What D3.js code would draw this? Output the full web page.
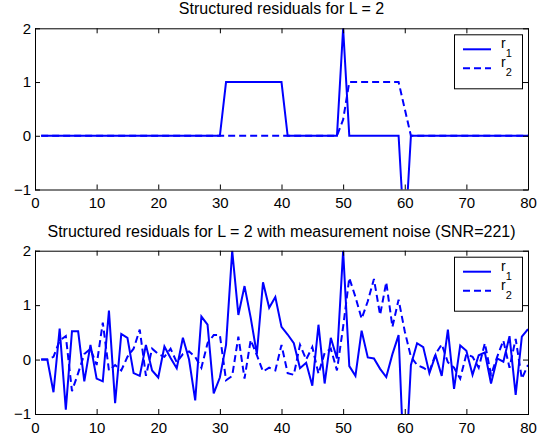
<!DOCTYPE html>
<html>
<head>
<meta charset="utf-8">
<script src="https://cdn.jsdelivr.net/npm/d3@7"></script>
<style>
  body { margin: 0; background: #fff; }
  svg { display: block; }
  text { font-family: "Liberation Sans", Arial, Helvetica, sans-serif; }
</style>
</head>
<body>
<div id="chart"></div>
<script>
// clean residuals (top panel)
const r1Clean = [0,0,0,0,0,0,0,0,0,0, 0,0,0,0,0,0,0,0,0,0, 0,0,0,0,0,0,0,0,0,0,
    1,1,1,1,1,1,1,1,1,1, 0,0,0,0,0,0,0,0,0,2, 0,0,0,0,0,0,0,0,0,-2,
    0,0,0,0,0,0,0,0,0,0, 0,0,0,0,0,0,0,0,0,0];
const r2Clean = [0,0,0,0,0,0,0,0,0,0, 0,0,0,0,0,0,0,0,0,0, 0,0,0,0,0,0,0,0,0,0,
    0,0,0,0,0,0,0,0,0,0, 0,0,0,0,0,0,0,0,0,0.3, 1,1,1,1,1,1,1,1,1,0.5,
    0,0,0,0,0,0,0,0,0,0, 0,0,0,0,0,0,0,0,0,0];

// residuals with measurement noise (bottom panel)
const r1Noisy = [0,0,-0.6,0.57,-0.92,0.52,0.52,-0.4,0.27,-0.35,
    -0.4,0.9,-0.8,0.47,0.4,-0.25,-0.3,0.27,-0.2,-0.33,
    0.24,0.03,-0.16,0.4,0,-0.75,0.79,0.64,-0.62,-0.33,
    0.27,2,0.82,1.35,0.77,0.1,1.42,0.95,1.15,0.6,
    0.46,0.3,-0.16,-0.06,-0.48,0.64,-0.44,0.4,0.02,2,
    -0.12,-0.3,0.53,0.04,0.02,-0.17,-0.32,0.1,0.45,-2.3,
    -0.1,0.3,0.23,-0.25,0.08,-0.3,0.55,-0.54,0.26,0.16,
    -0.28,0.08,0.13,-0.44,0.02,-0.04,0.43,-0.65,0.42,0.56];
const r2Noisy = [0,0,0.05,0.35,0.43,-0.58,-0.25,0.1,0.2,-0.1,
    0.68,-0.2,-0.1,-0.2,0.05,0.2,0.55,-0.3,0.2,0.1,
    0.05,0.2,-0.05,0.1,0.15,0.05,-0.15,0.3,0.45,0.45,
    -0.38,-0.3,0.42,-0.35,0.36,0.08,-0.22,-0.15,-0.2,0.27,
    -0.25,-0.28,0.27,0,0.23,-0.26,0.12,0.2,-0.2,0.6,
    1.5,1.15,0.75,1.07,1.48,0.82,1.42,0.6,1.1,0.52,
    0.05,-0.1,-0.15,-0.22,0.1,0.28,-0.05,-0.15,-0.35,0.1,
    0.05,-0.15,0.3,-0.28,0.05,0.35,-0.15,0.38,-0.35,-0.1];

const xTicks = [0, 10, 20, 30, 40, 50, 60, 70, 80];
const yTicks = [-1, 0, 1, 2];
const seriesNames = ["r1", "r2"];

const W = 545, H = 443;
const blue = "#0000ff";

const svg = d3.select("#chart").append("svg")
    .attr("width", W)
    .attr("height", H);

const x = d3.scaleLinear().domain([0, 80]).range([35, 528]);

function drawPanel(id, title, yRange, s1, s2) {
    const y = d3.scaleLinear().domain([-1, 2]).range(yRange);
    const g = svg.append("g");

    g.append("clipPath").attr("id", "clip" + id)
        .append("rect")
        .attr("x", x(0)).attr("y", y(2))
        .attr("width", x(80) - x(0)).attr("height", y(-1) - y(2));

    const line = d3.line()
        .x((d, i) => x(i + 1))
        .y(d => y(d));

    const plot = g.append("g").attr("clip-path", `url(#clip${id})`);
    plot.append("path")
        .attr("d", line(s2))
        .attr("fill", "none")
        .attr("stroke", blue)
        .attr("stroke-width", 2)
        .attr("stroke-dasharray", "7,4");
    plot.append("path")
        .attr("d", line(s1))
        .attr("fill", "none")
        .attr("stroke", blue)
        .attr("stroke-width", 2);

    // box + ticks pointing inward, MATLAB style
    g.append("g")
        .attr("transform", `translate(0,${y(-1)})`)
        .call(d3.axisBottom(x).tickValues(xTicks).tickSize(-5).tickPadding(8).tickFormat(d3.format("")))
        .call(a => a.select(".domain").remove());
    g.append("g")
        .attr("transform", `translate(0,${y(2)})`)
        .call(d3.axisTop(x).tickValues(xTicks).tickSize(-5).tickFormat(""))
        .call(a => a.select(".domain").remove());
    g.append("g")
        .attr("transform", `translate(${x(0)},0)`)
        .call(d3.axisLeft(y).tickValues(yTicks).tickSize(-5).tickPadding(4).tickFormat(d => d < 0 ? "\u2212" + Math.abs(d) : d))
        .call(a => a.select(".domain").remove());
    g.append("g")
        .attr("transform", `translate(${x(80)},0)`)
        .call(d3.axisRight(y).tickValues(yTicks).tickSize(-5).tickFormat(""))
        .call(a => a.select(".domain").remove());
    g.selectAll(".tick text").attr("font-size", 15).attr("fill", "#000")
        .attr("font-family", "'Liberation Sans', Arial, sans-serif");
    g.selectAll(".tick line").attr("stroke", "#000");

    g.append("rect")
        .attr("x", x(0) + 0.5).attr("y", y(2) + 0.5)
        .attr("width", x(80) - x(0)).attr("height", y(-1) - y(2))
        .attr("fill", "none").attr("stroke", "#000");

    g.append("text")
        .attr("x", (x(0) + x(80)) / 2)
        .attr("y", y(2) - 14)
        .attr("text-anchor", "middle")
        .attr("font-size", 16)
        .text(title);

    // legend
    const lg = g.append("g").attr("transform", `translate(454,${y(2) + 6})`);
    lg.append("rect")
        .attr("x", 0.5).attr("y", 0.5)
        .attr("width", 68).attr("height", 54)
        .attr("fill", "#fff").attr("stroke", "#000");
    seriesNames.forEach((name, i) => {
        const ly = 15 + i * 19;
        lg.append("line")
            .attr("x1", 9).attr("x2", 37)
            .attr("y1", ly).attr("y2", ly)
            .attr("stroke", blue).attr("stroke-width", 2)
            .attr("stroke-dasharray", i === 1 ? "7,4" : null);
        const t = lg.append("text")
            .attr("x", 47).attr("y", ly - 1)
            .attr("font-size", 14);
        t.append("tspan").text(name[0]);
        t.append("tspan").attr("dy", 9).attr("font-size", 11).text(name.slice(1));
    });
}

drawPanel("a", "Structured residuals for L = 2", [189.5, 28.3], r1Clean, r2Clean);
drawPanel("b", "Structured residuals for L = 2 with measurement noise (SNR=221)", [414, 250.7], r1Noisy, r2Noisy);
</script>
</body>
</html>
